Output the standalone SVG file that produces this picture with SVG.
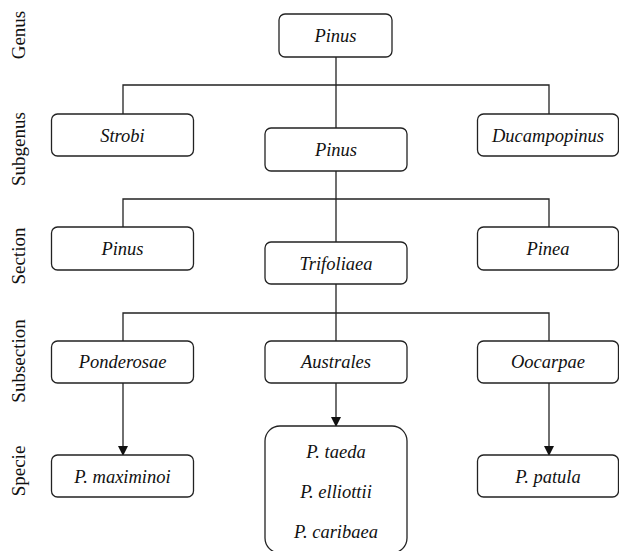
<svg xmlns="http://www.w3.org/2000/svg" width="619" height="551" viewBox="0 0 619 551">
<defs>
<marker id="arr" markerWidth="10" markerHeight="10" refX="9" refY="5" orient="auto" markerUnits="userSpaceOnUse">
<path d="M0,0 L10,5 L0,10 Z" fill="#111"/>
</marker>
<style>
.box{fill:#fff;stroke:#222;stroke-width:1.3}
.t{font-family:"Liberation Serif","Times New Roman",serif;font-style:italic;font-size:18.5px;fill:#111;text-anchor:middle}
.lab{font-family:"Liberation Serif","Times New Roman",serif;font-size:19px;fill:#111;text-anchor:middle}
.ln{fill:none;stroke:#222;stroke-width:1.3}
</style>
</defs>
<rect width="619" height="551" fill="#fff"/>
<g id="levels">
<text class="lab" transform="translate(24.5,35) rotate(-90)">Genus</text>
<text class="lab" transform="translate(24.5,149) rotate(-90)">Subgenus</text>
<text class="lab" transform="translate(24.5,256) rotate(-90)">Section</text>
<text class="lab" transform="translate(24.5,361) rotate(-90)">Subsection</text>
<text class="lab" transform="translate(24.5,471) rotate(-90)">Specie</text>
</g>
<g id="connectors">
<path class="ln" d="M336,57 V128 M123,114 V85 H549 V114"/>
<path class="ln" d="M336,171 V242 M123,227 V199 H549 V227"/>
<path class="ln" d="M336,284 V341 M123,341 V313 H549 V341"/>
<path class="ln" d="M123,383 V455" marker-end="url(#arr)"/>
<path class="ln" d="M336,383 V426" marker-end="url(#arr)"/>
<path class="ln" d="M549,383 V455" marker-end="url(#arr)"/>
</g>
<g id="genus-pinus"><rect class="box" x="279" y="14" width="113" height="43" rx="6"/><text class="t" x="335.5" y="42">Pinus</text></g>
<g id="strobi"><rect class="box" x="51.5" y="114" width="142" height="42" rx="6"/><text class="t" x="122.5" y="142">Strobi</text></g>
<g id="subgenus-pinus"><rect class="box" x="265" y="128" width="142" height="43" rx="6"/><text class="t" x="336" y="156">Pinus</text></g>
<g id="ducampopinus"><rect class="box" x="477.5" y="114" width="141" height="42" rx="6"/><text class="t" x="548" y="142">Ducampopinus</text></g>
<g id="section-pinus"><rect class="box" x="51.5" y="227" width="142" height="43" rx="6"/><text class="t" x="122.5" y="255">Pinus</text></g>
<g id="trifoliaea"><rect class="box" x="265" y="242" width="142" height="42" rx="6"/><text class="t" x="336" y="270">Trifoliaea</text></g>
<g id="pinea"><rect class="box" x="477.5" y="227" width="141" height="43" rx="6"/><text class="t" x="548" y="255">Pinea</text></g>
<g id="ponderosae"><rect class="box" x="51.5" y="341" width="142" height="42" rx="6"/><text class="t" x="122.5" y="368">Ponderosae</text></g>
<g id="australes"><rect class="box" x="265" y="341" width="142" height="42" rx="6"/><text class="t" x="336" y="368">Australes</text></g>
<g id="oocarpae"><rect class="box" x="477.5" y="341" width="141" height="42" rx="6"/><text class="t" x="548" y="368">Oocarpae</text></g>
<g id="p-maximinoi"><rect class="box" x="51.5" y="455" width="142" height="42" rx="6"/><text class="t" x="122.5" y="483">P. maximinoi</text></g>
<g id="australes-species"><rect class="box" x="265" y="426" width="142" height="127" rx="15"/>
<text class="t" x="336" y="458">P. taeda</text>
<text class="t" x="336" y="498">P. elliottii</text>
<text class="t" x="336" y="538">P. caribaea</text></g>
<g id="p-patula"><rect class="box" x="477.5" y="455" width="141" height="42" rx="6"/><text class="t" x="548" y="483">P. patula</text></g>
</svg>
